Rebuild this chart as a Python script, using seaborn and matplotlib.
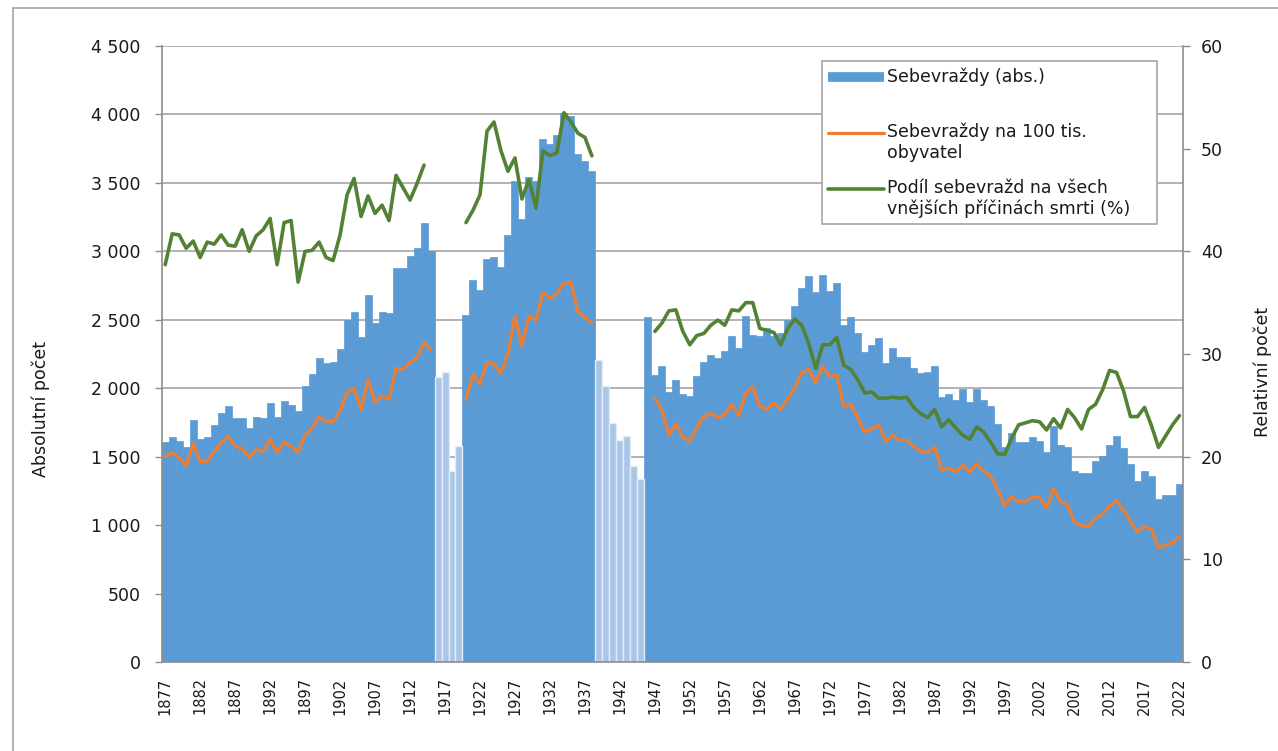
import numpy as np
import pandas as pd
import seaborn as sns
import matplotlib
matplotlib.use("Agg")
import matplotlib.pyplot as plt
from matplotlib.lines import Line2D
from matplotlib.legend_handler import HandlerLine2D
from matplotlib.patches import Rectangle
from matplotlib.ticker import FuncFormatter, MultipleLocator

# ---------------- data ----------------
years = list(range(1877, 2023))
gap_years = [1916, 1917, 1918, 1919, 1939, 1940, 1941, 1942, 1943, 1944, 1945]

suicides_abs = [
    # 1877-1915
    1606, 1642, 1618, 1574, 1769, 1628, 1642, 1732, 1817, 1871,
    1779, 1786, 1708, 1793, 1781, 1895, 1793, 1910, 1876, 1837,
    2017, 2102, 2219, 2187, 2192, 2285, 2499, 2560, 2377, 2681,
    2474, 2560, 2547, 2876, 2876, 2966, 3022, 3204, 3005,
    # 1916-1919
    2085, 2120, 1395, 1580,
    # 1920-1938
    2536, 2787, 2715, 2947, 2961, 2882, 3120, 3514, 3234, 3542,
    3514, 3821, 3785, 3849, 4010, 3990, 3709, 3659, 3589,
    # 1939-1945
    2209, 2019, 1746, 1619, 1648, 1429, 1337,
    # 1946-1972
    2518, 2099, 2160, 1970, 2062, 1958, 1946, 2087, 2189, 2245,
    2221, 2269, 2379, 2294, 2525, 2391, 2384, 2440, 2384, 2403,
    2501, 2598, 2732, 2817, 2700, 2829, 2710,
    # 1973-1993
    2766, 2462, 2518, 2406, 2267, 2316, 2364, 2182, 2291, 2226,
    2226, 2145, 2113, 2121, 2162, 1933, 1958, 1914, 1992, 1902, 1992,
    # 1994-2003
    1914, 1870, 1739, 1573, 1670, 1610, 1610, 1646, 1617, 1532,
    # 2004-2022
    1721, 1588, 1571, 1393, 1381, 1381, 1466, 1502, 1588, 1653,
    1560, 1450, 1320, 1393, 1356, 1191, 1222, 1222, 1303,
]

suicides_rate = [
    # 1877-1915
    20.0, 20.4, 19.9, 19.1, 21.3, 19.5, 19.5, 20.5, 21.3, 22.0,
    21.0, 20.8, 19.9, 20.7, 20.5, 21.7, 20.4, 21.4, 21.0, 20.4,
    22.1, 22.8, 23.9, 23.4, 23.4, 24.4, 26.3, 26.7, 24.6, 27.5,
    25.3, 25.9, 25.6, 28.6, 28.5, 29.2, 29.6, 31.1, 30.4,
    # 1916-1919
    None, None, None, None,
    # 1920-1938
    25.6, 28.0, 27.1, 29.2, 29.0, 28.1, 30.0, 33.7, 30.8, 33.7,
    33.3, 36.0, 35.4, 35.9, 36.9, 37.0, 34.1, 33.6, 33.0,
    # 1939-1946
    None, None, None, None, None, None, None, None,
    # 1947-1972
    25.7, 24.6, 22.1, 23.2, 21.9, 21.5, 22.8, 23.9, 24.2, 23.8,
    24.1, 25.1, 24.0, 26.2, 26.8, 24.9, 24.6, 25.2, 24.6, 25.6,
    26.7, 28.2, 28.5, 27.2, 28.8, 27.8,
    # 1973-1993
    28.0, 24.9, 25.1, 23.8, 22.4, 22.7, 23.1, 21.5, 22.1, 21.6,
    21.6, 21.0, 20.5, 20.4, 20.9, 18.7, 18.9, 18.5, 19.2, 18.5, 19.3,
    # 1994-2003
    18.6, 18.1, 16.8, 15.2, 16.1, 15.6, 15.6, 16.1, 16.0, 15.0,
    # 2004-2022
    16.9, 15.6, 15.3, 13.6, 13.3, 13.2, 14.0, 14.4, 15.2, 15.7,
    14.8, 13.7, 12.7, 13.2, 12.9, 11.1, 11.4, 11.6, 12.2,
]

share_external = [
    # 1877-1915
    38.7, 41.7, 41.6, 40.3, 41.0, 39.4, 40.9, 40.7, 41.6, 40.6,
    40.5, 42.1, 40.0, 41.5, 42.1, 43.2, 38.7, 42.8, 43.0, 37.0,
    40.0, 40.1, 40.9, 39.4, 39.1, 41.6, 45.5, 47.1, 43.4, 45.4,
    43.7, 44.5, 43.0, 47.4, 46.2, 45.0, 46.6, 48.4, None,
    # 1916-1919
    None, None, None, None,
    # 1920-1938
    42.8, 44.0, 45.5, 51.7, 52.6, 49.8, 47.8, 49.1, 45.1, 47.0,
    44.2, 49.8, 49.3, 49.6, 53.5, 52.6, 51.5, 51.1, 49.3,
    # 1939-1946
    None, None, None, None, None, None, None, None,
    # 1947-1972
    32.2, 33.0, 34.2, 34.3, 32.2, 30.9, 31.8, 32.0, 32.8, 33.3,
    32.8, 34.3, 34.2, 35.0, 35.0, 32.5, 32.3, 32.1, 30.9, 32.5,
    33.4, 32.8, 31.0, 28.6, 30.9, 30.9,
    # 1973-1993
    31.6, 28.9, 28.5, 27.5, 26.2, 26.3, 25.7, 25.7, 25.8, 25.7,
    25.8, 24.8, 24.2, 23.8, 24.6, 22.9, 23.6, 22.8, 22.1, 21.7, 22.9,
    # 1994-2003
    22.4, 21.4, 20.3, 20.2, 21.8, 23.1, 23.3, 23.5, 23.4, 22.6,
    # 2004-2022
    23.7, 22.8, 24.6, 23.8, 22.7, 24.6, 25.1, 26.5, 28.4, 28.2,
    26.4, 23.9, 23.9, 24.8, 23.0, 20.9, 22.0, 23.1, 24.0,
]

left_ticks = list(range(0, 4501, 500))
right_ticks = list(range(0, 61, 10))
tick_years = years[::5]

legend_labels = [
    "Sebevraždy (abs.)\n ",
    "Sebevraždy na 100 tis.\nobyvatel",
    "Podíl sebevražd na všech\nvnějších příčinách smrti (%)",
]

# ---------------- style ----------------
BLUE = "#5B9BD5"
LIGHT = "#A9C6E8"
ORANGE = "#ED7D31"
GREEN = "#548235"
GRID = "#A6A6A6"
AXIS = "#8C8C8C"
TEXT = "#1A1A1A"

sns.set_theme(style="white")
plt.rcParams["font.family"] = ["DejaVu Sans"]

df = pd.DataFrame({
    "year": years,
    "abs": suicides_abs,
    "rate": pd.to_numeric(pd.Series(suicides_rate, dtype="object"), errors="coerce"),
    "share": pd.to_numeric(pd.Series(share_external, dtype="object"), errors="coerce"),
})
df["kind"] = np.where(df["year"].isin(gap_years), "gap", "main")
df["pos"] = np.arange(len(df))

W, H = 1278, 751
fig = plt.figure(figsize=(W / 100, H / 100), dpi=100)
x0, x1, ytop, ybot = 161.7, 1183, 46, 662
ax = fig.add_axes([x0 / W, 1 - ybot / H, (x1 - x0) / W, (ybot - ytop) / H])

sns.barplot(data=df, x="year", y="abs", hue="kind", order=years,
            hue_order=["main", "gap"], palette={"main": BLUE, "gap": LIGHT},
            dodge=False, width=1.0, saturation=1, legend=False, ax=ax, zorder=2)

for p in ax.patches:
    fc = matplotlib.colors.to_hex(p.get_facecolor())
    if fc.lower() == LIGHT.lower():
        p.set_edgecolor("#E4ECF6")
        p.set_linewidth(1.0)
    else:
        p.set_edgecolor(BLUE)
        p.set_linewidth(0.5)

ax.set_xlim(-0.5, len(years) - 0.5)
ax.set_ylim(0, 4500)
ax.yaxis.set_major_locator(MultipleLocator(500))
ax.set_yticks(left_ticks)
ax.yaxis.set_major_formatter(FuncFormatter(lambda v, _: f"{int(v):,}".replace(",", " ")))
ax.set_xticks([years.index(y) for y in tick_years])
ax.set_xticklabels([str(y) for y in tick_years], rotation=90)
ax.yaxis.grid(True, color=GRID, linewidth=1.2)
ax.xaxis.grid(False)
ax.set_axisbelow(True)
ax.tick_params(axis="y", length=5, width=1, color=AXIS, pad=10, labelsize=12.5, labelcolor=TEXT, direction="out", left=True)
ax.tick_params(axis="x", length=0, pad=11, labelsize=10.5, labelcolor=TEXT)
ax.set_xlabel("")
ax.set_ylabel("Absolutní počet", fontsize=12.5, color=TEXT)
ax.yaxis.set_label_coords(-0.109, 0.41)
for s in ["top", "right"]:
    ax.spines[s].set_visible(False)
for s in ["left", "bottom"]:
    ax.spines[s].set_color(AXIS)
    ax.spines[s].set_linewidth(1.2)

# ---------------- lines on secondary axis ----------------
ax2 = ax.twinx()
for col, color, lw in [("rate", ORANGE, 2.3), ("share", GREEN, 2.6)]:
    d = df[["pos", col]].copy()
    d["seg"] = d[col].isna().cumsum()
    d = d.dropna(subset=[col])
    sns.lineplot(data=d, x="pos", y=col, units="seg", estimator=None, sort=False,
                 color=color, linewidth=lw, ax=ax2, legend=False, zorder=3)

ax2.set_xlim(-0.5, len(years) - 0.5)
ax2.set_ylim(0, 60)
ax2.set_yticks(right_ticks)
ax2.set_xlabel("")
ax2.set_ylabel("Relativní počet", fontsize=12.5, color=TEXT)
ax2.yaxis.set_label_coords(1.0686, 0.471)
ax2.tick_params(axis="y", length=5, width=1, color=AXIS, pad=8, labelsize=12.5, labelcolor=TEXT, direction="out", right=True)
for s in ["top", "left", "bottom"]:
    ax2.spines[s].set_visible(False)
ax2.spines["right"].set_color(AXIS)
ax2.spines["right"].set_linewidth(1.2)
ax2.grid(False)


# ---------------- legend ----------------
class TopAlignedLine(HandlerLine2D):
    def create_artists(self, legend, orig_handle, xdescent, ydescent,
                       width, height, fontsize, trans):
        arts = super().create_artists(legend, orig_handle, xdescent, ydescent,
                                      width, height, fontsize, trans)
        for a in arts:
            if hasattr(a, "get_ydata"):
                a.set_ydata(np.asarray(a.get_ydata(), dtype=float) + 0.6 * fontsize)
        return arts


handles = [
    Line2D([], [], color=BLUE, linewidth=7, solid_capstyle="butt"),
    Line2D([], [], color=ORANGE, linewidth=2.3),
    Line2D([], [], color=GREEN, linewidth=2.6),
]
pw, ph = (x1 - x0), (ybot - ytop)
leg_left, leg_right, leg_top = 822, 1157, 61
leg = ax2.legend(handles, legend_labels, loc="upper left",
                 bbox_to_anchor=((leg_left - x0) / pw, 0.0,
                                 (leg_right - leg_left) / pw, (ybot - leg_top) / ph),
                 mode="expand",
                 borderaxespad=0, frameon=True, fancybox=False, framealpha=1,
                 edgecolor=GRID, fontsize=12.5, handlelength=3.2, handletextpad=0.2,
                 labelspacing=0.95, borderpad=0.35,
                 handler_map={Line2D: TopAlignedLine()})
leg.get_frame().set_linewidth(1.2)
for t in leg.get_texts():
    t.set_color(TEXT)

# outer chart border
fig.add_artist(Rectangle((13 / W, -0.05), 1.2, (1 - 8 / H) + 0.05, transform=fig.transFigure,
                         fill=False, edgecolor=GRID, linewidth=1.2))

fig.savefig("out.png", dpi=100)
